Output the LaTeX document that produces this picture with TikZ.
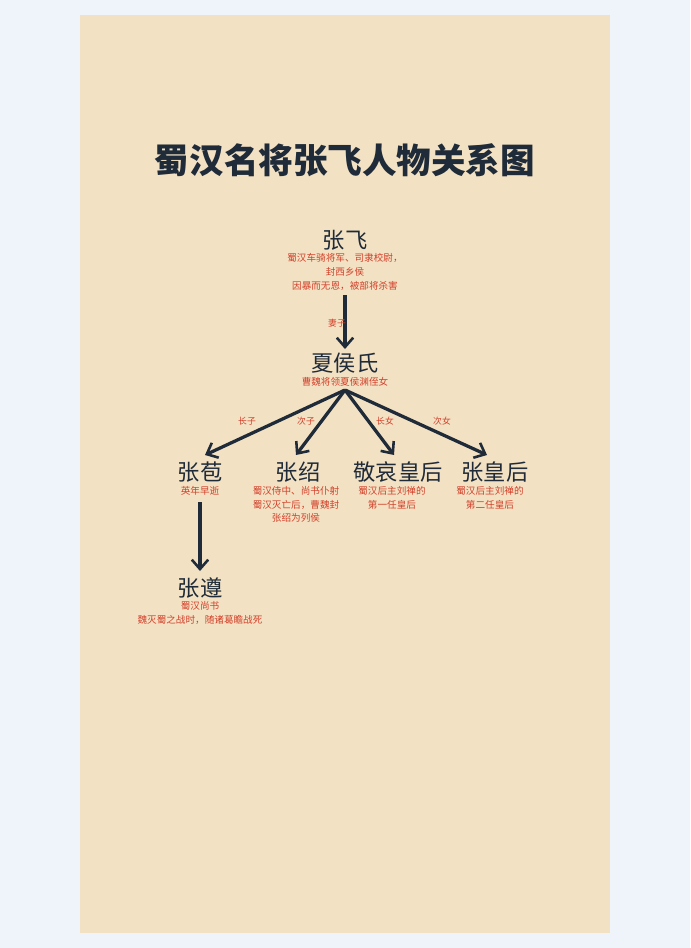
\documentclass[tikz,border=0pt]{standalone}
\usepackage{fontspec}
\setmainfont{Noto Sans CJK SC}
\usetikzlibrary{arrows.meta}
\definecolor{paper}{HTML}{F3E1C3}
\definecolor{outer}{HTML}{EEF4FA}
\definecolor{ink}{HTML}{1F2B38}
\definecolor{note}{HTML}{D2402A}
\begin{document}
\begin{tikzpicture}[x=0.03cm,y=-0.03cm,
        >={Straight Barb[length=8pt,width=14pt,line width=2.2pt]},
        personname/.style={inner sep=0pt,text=ink,font=\fontsize{19}{19}\selectfont},
        persondesc/.style={inner sep=0pt,text=note,align=center,
            font=\fontsize{8.2}{11.8}\selectfont},
        rellabel/.style={inner sep=0pt,text=note,font=\fontsize{7.5}{7.5}\selectfont},
        relarrow/.style={->,draw=ink,line width=2.8pt}
    ]
    %% background
    \fill[outer] (0,0) rectangle (690,948);
    \fill[paper] (80,15) rectangle (610,933);
    \useasboundingbox (0,0) rectangle (690,948);
    %% title
    \node[inner sep=0pt,text=ink,font=\fontsize{29.5}{29.5}\selectfont\bfseries] (title) at (345,160) {蜀汉名将张飞人物关系图};
    %% people
    \node[personname] (feiN) at (345,240) {张飞};
    \node[persondesc,anchor=north] (feiD) at (345,253) {蜀汉车骑将军、司隶校尉，\\封西乡侯\\因暴而无恩，被部将杀害};
    \node[personname] (xiaN) at (345,363) {夏侯氏};
    \node[persondesc] (xiaD) at (345,382) {曹魏将领夏侯渊侄女};
    \node[personname] (baoN) at (200,472) {张苞};
    \node[persondesc,anchor=north] (baoD) at (200,486) {英年早逝};
    \node[personname] (shaoN) at (298,472) {张绍};
    \node[persondesc,anchor=north] (shaoD) at (296,486) {蜀汉侍中、尚书仆射\\蜀汉灭亡后，曹魏封\\张绍为列侯};
    \node[personname] (jingN) at (398,472) {敬哀皇后};
    \node[persondesc,anchor=north] (jingD) at (392,486) {蜀汉后主刘禅的\\第一任皇后};
    \node[personname] (zhangN) at (495,472) {张皇后};
    \node[persondesc,anchor=north] (zhangD) at (490,486) {蜀汉后主刘禅的\\第二任皇后};
    \node[personname] (zunN) at (200,588) {张遵};
    \node[persondesc,anchor=north] (zunD) at (200,601) {蜀汉尚书\\魏灭蜀之战时，随诸葛瞻战死};
    %% links
    \coordinate (top) at (345,390);
    \draw[relarrow] (345,295) -- (345,349);
    \node[rellabel] (wife) at (337,323) {妻子};
    \draw[relarrow] (top) -- (205,455);
    \draw[relarrow] (top) -- (296,455);
    \draw[relarrow] (top) -- (394,455);
    \draw[relarrow] (top) -- (487,455);
    \node[rellabel] (son1) at (247,421) {长子};
    \node[rellabel] (son2) at (306,421) {次子};
    \node[rellabel] (dau1) at (385,421) {长女};
    \node[rellabel] (dau2) at (442,421) {次女};
    \draw[relarrow] (200,502) -- (200,571);
\end{tikzpicture}
\end{document}
